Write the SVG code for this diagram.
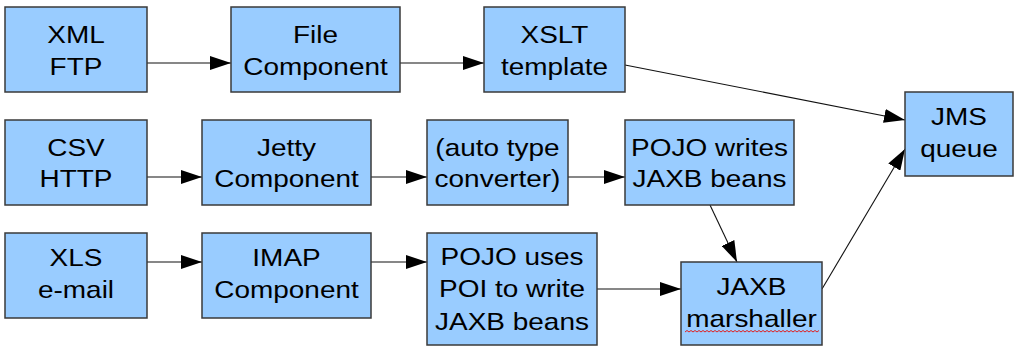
<svg xmlns="http://www.w3.org/2000/svg" width="1016" height="346" viewBox="0 0 1016 346">
<style>
.box{fill:#99ccff;stroke:#3a3a3a;stroke-width:1.5}
.lbl{font-family:"Liberation Sans",Arial,sans-serif;font-size:24px;fill:#000;text-anchor:middle}
.conn{stroke:#111;stroke-width:1.1;fill:none;marker-end:url(#arr)}
.squig{stroke:#e02020;stroke-width:1;fill:none}
</style>
<defs>
<marker id="arr" markerUnits="userSpaceOnUse" markerWidth="21" markerHeight="14" refX="21" refY="7" orient="auto">
<path d="M0,0 L21,7 L0,14 z" fill="#000"/>
</marker>
</defs>
<g id="connectors">
<line class="conn" x1="147" y1="63" x2="231" y2="63"/>
<line class="conn" x1="400" y1="63" x2="484" y2="63"/>
<line class="conn" x1="625" y1="65" x2="905" y2="120"/>
<line class="conn" x1="147" y1="177" x2="202" y2="177"/>
<line class="conn" x1="371" y1="177" x2="427" y2="177"/>
<line class="conn" x1="568" y1="177" x2="625" y2="177"/>
<line class="conn" x1="710" y1="205" x2="737" y2="262"/>
<line class="conn" x1="147" y1="262" x2="202" y2="262"/>
<line class="conn" x1="371" y1="262" x2="427" y2="262"/>
<line class="conn" x1="597" y1="289" x2="681" y2="289"/>
<line class="conn" x1="822" y1="289" x2="905" y2="149"/>
</g>
<g id="xml">
<rect class="box" x="5" y="7" width="142" height="85"/>
<text class="lbl" transform="matrix(1.165,0,0,1,76,0)"><tspan x="0" y="43">XML</tspan><tspan x="0" y="75">FTP</tspan></text>
</g>
<g id="file">
<rect class="box" x="231" y="7" width="169" height="85"/>
<text class="lbl" transform="matrix(1.165,0,0,1,315.5,0)"><tspan x="0" y="43">File</tspan><tspan x="0" y="75">Component</tspan></text>
</g>
<g id="xslt">
<rect class="box" x="484" y="7" width="141" height="85"/>
<text class="lbl" transform="matrix(1.165,0,0,1,554.5,0)"><tspan x="0" y="43">XSLT</tspan><tspan x="0" y="75">template</tspan></text>
</g>
<g id="csv">
<rect class="box" x="5" y="120" width="142" height="85"/>
<text class="lbl" transform="matrix(1.165,0,0,1,76,0)"><tspan x="0" y="156">CSV</tspan><tspan x="0" y="187">HTTP</tspan></text>
</g>
<g id="jetty">
<rect class="box" x="202" y="120" width="169" height="85"/>
<text class="lbl" transform="matrix(1.165,0,0,1,286.5,0)"><tspan x="0" y="156">Jetty</tspan><tspan x="0" y="187">Component</tspan></text>
</g>
<g id="auto">
<rect class="box" x="427" y="120" width="141" height="85"/>
<text class="lbl" transform="matrix(1.165,0,0,1,497.5,0)"><tspan x="0" y="156">(auto type</tspan><tspan x="0" y="187">converter)</tspan></text>
</g>
<g id="pojo-writes">
<rect class="box" x="625" y="120" width="169" height="85"/>
<text class="lbl" transform="matrix(1.165,0,0,1,709.5,0)"><tspan x="0" y="156">POJO writes</tspan><tspan x="0" y="187">JAXB beans</tspan></text>
</g>
<g id="xls">
<rect class="box" x="5" y="233" width="142" height="85"/>
<text class="lbl" transform="matrix(1.165,0,0,1,76,0)"><tspan x="0" y="266">XLS</tspan><tspan x="0" y="298">e-mail</tspan></text>
</g>
<g id="imap">
<rect class="box" x="202" y="233" width="169" height="85"/>
<text class="lbl" transform="matrix(1.165,0,0,1,286.5,0)"><tspan x="0" y="266">IMAP</tspan><tspan x="0" y="298">Component</tspan></text>
</g>
<g id="pojo-uses">
<rect class="box" x="427" y="233" width="170" height="112"/>
<text class="lbl" transform="matrix(1.165,0,0,1,512,0)"><tspan x="0" y="265">POJO uses</tspan><tspan x="0" y="297">POI to write</tspan><tspan x="0" y="330">JAXB beans</tspan></text>
</g>
<g id="jaxb">
<rect class="box" x="681" y="262" width="141" height="83"/>
<text class="lbl" transform="matrix(1.165,0,0,1,751.5,0)"><tspan x="0" y="295">JAXB</tspan><tspan x="0" y="327">marshaller</tspan></text>
<path class="squig" d="M685,332 l2,-1.5 l2,1.5 l2,-1.5 l2,1.5 l2,-1.5 l2,1.5 l2,-1.5 l2,1.5 l2,-1.5 l2,1.5 l2,-1.5 l2,1.5 l2,-1.5 l2,1.5 l2,-1.5 l2,1.5 l2,-1.5 l2,1.5 l2,-1.5 l2,1.5 l2,-1.5 l2,1.5 l2,-1.5 l2,1.5 l2,-1.5 l2,1.5 l2,-1.5 l2,1.5 l2,-1.5 l2,1.5 l2,-1.5 l2,1.5 l2,-1.5 l2,1.5 l2,-1.5 l2,1.5 l2,-1.5 l2,1.5 l2,-1.5 l2,1.5 l2,-1.5 l2,1.5 l2,-1.5 l2,1.5 l2,-1.5 l2,1.5 l2,-1.5 l2,1.5 l2,-1.5 l2,1.5 l2,-1.5 l2,1.5 l2,-1.5 l2,1.5 l2,-1.5 l2,1.5 l2,-1.5 l2,1.5 l2,-1.5 l2,1.5 l2,-1.5 l2,1.5 l2,-1.5 l2,1.5 l2,-1.5 l2,1.5 l2,-1.5"/>
</g>
<g id="jms">
<rect class="box" x="905" y="92" width="108" height="84"/>
<text class="lbl" transform="matrix(1.165,0,0,1,959,0)"><tspan x="0" y="125">JMS</tspan><tspan x="0" y="157">queue</tspan></text>
</g>
</svg>
